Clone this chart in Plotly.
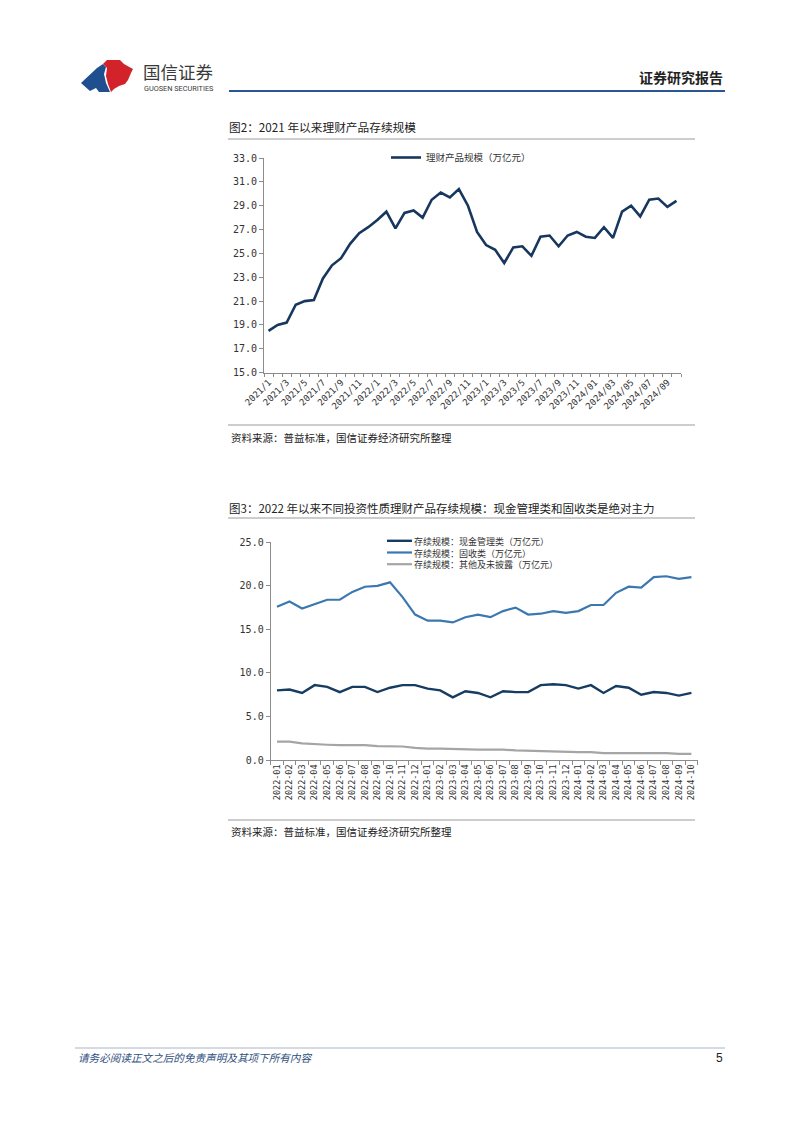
import plotly.graph_objects as go

W, H = 802, 1133
OFF = 8  # page body margin the figure is rendered with

# ---------------- data ----------------
months1 = [f"2021/{m}" for m in range(1, 13)] + [f"2022/{m}" for m in range(1, 13)] + \
          [f"2023/{m}" for m in range(1, 13)] + [f"2024/{m:02d}" for m in range(1, 11)]
scale_total = [18.5, 19.0, 19.2, 20.7, 21.0, 21.1, 22.9, 24.0, 24.6, 25.8, 26.7, 27.2,
               27.8, 28.5, 27.1, 28.4, 28.6, 28.0, 29.5, 30.1, 29.7, 30.4, 29.0, 26.8,
               25.7, 25.3, 24.2, 25.5, 25.6, 24.8, 26.4, 26.5, 25.6, 26.5, 26.8, 26.4,
               26.3, 27.2, 26.3, 28.5, 29.0, 28.1, 29.5, 29.6, 28.9, 29.4]

months2 = [f"2022-{m:02d}" for m in range(1, 13)] + [f"2023-{m:02d}" for m in range(1, 13)] + \
          [f"2024-{m:02d}" for m in range(1, 11)]
cash_mgmt = [8.0, 8.1, 7.7, 8.6, 8.4, 7.8, 8.4, 8.4, 7.8, 8.3, 8.6, 8.6,
             8.2, 8.0, 7.2, 7.9, 7.7, 7.2, 7.9, 7.8, 7.8, 8.6, 8.7, 8.6,
             8.2, 8.6, 7.7, 8.5, 8.3, 7.5, 7.8, 7.7, 7.4, 7.7]
fixed_income = [17.6, 18.2, 17.4, 17.9, 18.4, 18.4, 19.3, 19.9, 20.0, 20.4, 18.7, 16.7,
                16.0, 16.0, 15.8, 16.4, 16.7, 16.4, 17.1, 17.5, 16.7, 16.8, 17.1, 16.9,
                17.1, 17.8, 17.8, 19.2, 19.9, 19.8, 21.0, 21.1, 20.8, 21.0]
others = [2.1, 2.1, 1.9, 1.8, 1.75, 1.7, 1.7, 1.7, 1.6, 1.6, 1.55, 1.4,
          1.3, 1.3, 1.25, 1.2, 1.2, 1.2, 1.2, 1.1, 1.05, 1.05, 1.0, 0.95,
          0.9, 0.9, 0.8, 0.8, 0.8, 0.8, 0.8, 0.8, 0.7, 0.7]

series1_name = "理财产品规模（万亿元）"
series2_names = ["存续规模：现金管理类（万亿元）", "存续规模：固收类（万亿元）", "存续规模：其他及未披露（万亿元）"]

ticktext1 = [m if i % 2 == 0 else "" for i, m in enumerate(months1)]

# --------------- helpers ---------------
def px(x):
    return (x - OFF) / W

def py(y):
    return 1 - (y - OFF) / H

CJK = "Noto Sans CJK SC"
MONO = "DejaVu Sans Mono"
AX = "#8c8c8c"
TXT = "#333333"
colors2 = ["#163c62", "#3b78b0", "#a5a5a5"]
widths2 = [2.4, 2.2, 2.2]

fig = go.Figure()

fig.add_trace(go.Scatter(x=months1, y=scale_total, mode="lines", name=series1_name,
                         line=dict(color="#17375e", width=2.6), xaxis="x", yaxis="y",
                         showlegend=True))

for vals, nm, c, w in zip([cash_mgmt, fixed_income, others], series2_names, colors2, widths2):
    fig.add_trace(go.Scatter(x=months2, y=vals, mode="lines", name=nm,
                             line=dict(color=c, width=w), xaxis="x2", yaxis="y2",
                             showlegend=False))

axis_common = dict(showline=True, linecolor=AX, linewidth=1, ticks="outside", tickcolor=AX,
                   ticklen=4, showgrid=False, zeroline=False, automargin=False)

fig.update_layout(
    width=W, height=H, margin=dict(l=0, r=0, t=0, b=0, pad=0, autoexpand=False),
    paper_bgcolor="white", plot_bgcolor="white",
    font=dict(family=CJK, color=TXT, size=10),
    xaxis=dict(axis_common, domain=[px(264), px(681)], anchor="y", type="category",
               categoryorder="array", categoryarray=months1, range=[-0.5, len(months1) - 0.5],
               tickmode="array", tickvals=months1, ticktext=ticktext1, tickangle=-45,
               tickson="boundaries", ticklen=3,
               tickfont=dict(family=MONO, size=9, color=TXT)),
    yaxis=dict(axis_common, domain=[py(372.7), py(158)], anchor="x", range=[15, 33],
               tick0=15, dtick=2, tickformat=".1f",
               tickfont=dict(family=MONO, size=10, color=TXT)),
    xaxis2=dict(axis_common, domain=[px(270.7), px(697.7)], anchor="y2", type="category",
                categoryorder="array", categoryarray=months2, range=[-0.5, len(months2) - 0.5],
                tickmode="array", tickvals=months2, ticktext=months2, tickangle=-90,
                tickson="boundaries", ticklen=4,
                tickfont=dict(family=MONO, size=8.5, color=TXT)),
    yaxis2=dict(axis_common, domain=[py(760), py(542.3)], anchor="x2", range=[0, 25],
                tick0=0, dtick=5, tickformat=".1f",
                tickfont=dict(family=MONO, size=10, color=TXT)),
    legend=dict(x=px(386), y=py(143), xanchor="left", yanchor="top", bgcolor="rgba(0,0,0,0)",
                font=dict(family=CJK, size=9.5, color=TXT), itemwidth=30, tracegroupgap=0),
    showlegend=True,
)

shapes = []
# header line
shapes.append(dict(type="line", xref="paper", yref="paper", x0=px(229), x1=px(725), y0=py(91), y1=py(91),
                   line=dict(color="#2b5595", width=2)))
# chart separators
for yy in (139, 425, 518, 820):
    shapes.append(dict(type="line", xref="paper", yref="paper", x0=px(228), x1=px(695), y0=py(yy), y1=py(yy),
                       line=dict(color="#9a9a9a", width=1)))
# footer line
shapes.append(dict(type="line", xref="paper", yref="paper", x0=px(75), x1=px(725), y0=py(1048), y1=py(1048),
                   line=dict(color="#a9b4c6", width=1)))

def path(points, close=True):
    s = "M " + " L ".join(f"{px(a):.5f},{py(b):.5f}" for a, b in points)
    return s + (" Z" if close else "")

# logo (blue + red)
blue_pts = [(81, 83), (97, 68), (103, 64), (106, 67), (104, 74), (106, 83), (110, 92), (99, 92), (96, 88), (90, 91)]
red_pts = [(103, 64), (107, 60), (120, 60), (124, 64), (133, 69), (131, 73), (128, 80), (125, 84), (119, 86),
           (114, 89), (111, 92), (108, 84), (106, 76), (107, 68)]
shapes.append(dict(type="path", xref="paper", yref="paper", path=path(blue_pts),
                   fillcolor="#1f4f8f", line=dict(width=0)))
shapes.append(dict(type="path", xref="paper", yref="paper", path=path(red_pts),
                   fillcolor="#d2232a", line=dict(width=0)))

annotations = []

def txt(x, y, s, size=10, color=TXT, xanchor="left", family=CJK, bold=False, italic=False, pad=1):
    t = s
    if bold:
        t = f"<b>{t}</b>"
    if italic:
        t = f"<i>{t}</i>"
    annotations.append(dict(xref="paper", yref="paper", x=px(x), y=py(y), text=t, showarrow=False,
                            xanchor=xanchor, yanchor="middle", align="left", borderpad=pad,
                            font=dict(family=family, size=size, color=color)))

# compact legend for chart 2: one three-line text block plus line samples
LEG_FS = 9
row_gap = LEG_FS * 1.3
leg_mid = 552.5
txt(413, leg_mid, "<br>".join(series2_names), size=LEG_FS, color=TXT, pad=0)
for i, (c, w) in enumerate(zip(colors2, widths2)):
    yy = leg_mid + (i - 1) * row_gap
    shapes.append(dict(type="line", xref="paper", yref="paper", x0=px(387), x1=px(412), y0=py(yy), y1=py(yy),
                       line=dict(color=c, width=w)))

txt(142, 71, "国信证券", size=17.5, color="#3a3a3a", pad=0)
txt(143, 88.5, "GUOSEN SECURITIES", size=7.3, color="#3a3a3a", family="Roboto", pad=0)
txt(725, 77, "证券研究报告", size=14, color="#222222", xanchor="right", bold=True)

txt(227, 127, "图2：2021 年以来理财产品存续规模", size=11.7, color="#222222")
txt(229, 437, "资料来源：普益标准，国信证券经济研究所整理", size=10.5, color="#222222")
txt(227, 508, "图3：2022 年以来不同投资性质理财产品存续规模：现金管理类和固收类是绝对主力", size=11.5, color="#222222")
txt(229, 831, "资料来源：普益标准，国信证券经济研究所整理", size=10.5, color="#222222")

txt(76, 1057, "请务必阅读正文之后的免责声明及其项下所有内容", size=10.6, color="#2f4f80", italic=True)
txt(725, 1058, "5", size=12, color="#222222", xanchor="right", family="Liberation Sans")

fig.update_layout(shapes=shapes, annotations=annotations)

fig.write_html("out.html")
